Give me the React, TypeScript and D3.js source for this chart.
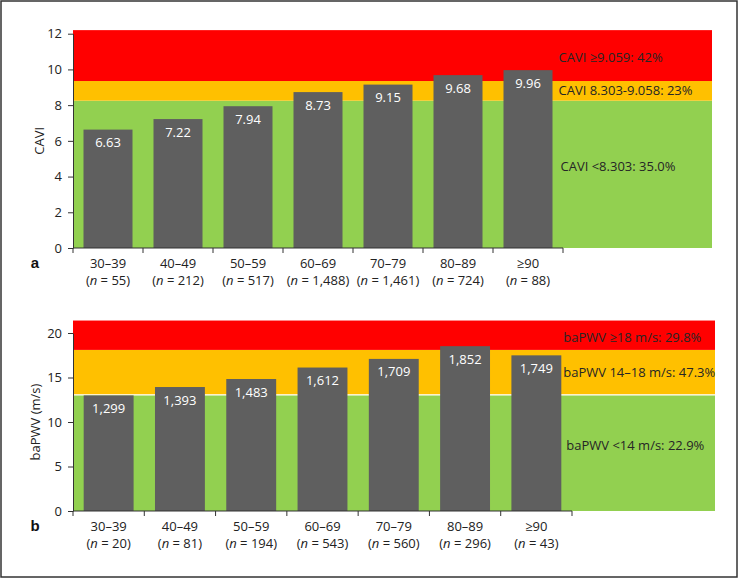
import React, { useEffect, useRef } from 'react';
import * as d3 from 'd3';

// age groups shared by both panels
const ageGroups = ['30–39', '40–49', '50–59', '60–69', '70–79', '80–89', '≥90'];

// panel a: CAVI
const caviN = ['55', '212', '517', '1,488', '1,461', '724', '88'];
const caviMeans = [6.63, 7.22, 7.94, 8.73, 9.15, 9.68, 9.96];
const caviZoneTops = [8.25, 9.35, 12.2];
const caviZoneLabels = ['CAVI <8.303: 35.0%', 'CAVI 8.303-9.058: 23%', 'CAVI ≥9.059: 42%'];
const caviTicks = [0, 2, 4, 6, 8, 10, 12];

// panel b: baPWV (cm/s, axis in m/s)
const pwvN = ['20', '81', '194', '543', '560', '296', '43'];
const pwvMeans = [1299, 1393, 1483, 1612, 1709, 1852, 1749];
const pwvZoneTops = [13.05, 18.1, 21.4];
const pwvZoneLabels = ['baPWV <14 m/s: 22.9%', 'baPWV 14–18 m/s: 47.3%', 'baPWV ≥18 m/s: 29.8%'];
const pwvTicks = [0, 5, 10, 15, 20];

const zoneColors = ['#92d050', '#ffc000', '#ff0000'];
const FONT = '"Open Sans", "Noto Sans", sans-serif';

function drawPanel(svg, cfg) {
  const { y0, y1, vmax, x0, x1, bandRight, values, fmt, ns, zoneTops, zoneLabels, labelAt, labelDx,
    ticks, yLabel, yLabelX, letter, whiteLine } = cfg;
  const x = d3.scaleBand().domain(ageGroups).range([x0, x1]).paddingInner(0.3).paddingOuter(0.15);
  const y = d3.scaleLinear().domain([0, vmax]).range([y0, y1]);
  const g = svg.append('g');

  // zones
  const bounds = [0, ...zoneTops];
  zoneTops.forEach((top, i) => {
    g.append('rect')
      .attr('x', x0).attr('width', bandRight - x0)
      .attr('y', y(top)).attr('height', y(bounds[i]) - y(top))
      .attr('fill', zoneColors[i]);
  });
  if (whiteLine) {
    g.append('line').attr('x1', x0).attr('x2', bandRight)
      .attr('y1', y(zoneTops[0])).attr('y2', y(zoneTops[0]))
      .attr('stroke', '#fff').attr('stroke-width', 1.2);
  }

  // bars
  g.selectAll('rect.bar').data(values).enter().append('rect')
    .attr('class', 'bar')
    .attr('x', (d, i) => x(ageGroups[i]))
    .attr('width', x.bandwidth())
    .attr('y', d => y(d))
    .attr('height', d => y0 - y(d))
    .attr('fill', '#5f5f5f');

  g.selectAll('text.val').data(values).enter().append('text')
    .attr('class', 'val')
    .attr('x', (d, i) => x(ageGroups[i]) + x.bandwidth() / 2)
    .attr('y', d => y(d) + 17.5)
    .attr('text-anchor', 'middle')
    .attr('fill', '#fff')
    .attr('font-size', 13)
    .text(fmt);

  // zone labels
  const lastRight = x(ageGroups[ageGroups.length - 1]) + x.bandwidth();
  zoneLabels.forEach((lab, i) => {
    g.append('text')
      .attr('x', lastRight + labelDx[i])
      .attr('y', y(labelAt[i]))
      .attr('dy', '0.35em')
      .attr('fill', '#262626')
      .attr('font-size', 13)
      .text(lab);
  });

  // y axis
  const ya = g.append('g').attr('transform', `translate(${x0},0)`)
    .call(d3.axisLeft(y).tickValues(ticks).tickSize(5).tickSizeOuter(0).tickPadding(6));
  ya.selectAll('path, line').attr('stroke', '#333');
  ya.selectAll('text').attr('font-size', 13).attr('font-family', FONT).attr('fill', '#222');

  // x axis: line with ticks at category boundaries
  g.append('line').attr('x1', x0).attr('x2', x1).attr('y1', y0).attr('y2', y0)
    .attr('stroke', '#333').attr('stroke-width', 1.2);
  const step = x.step();
  g.selectAll('line.xt').data(d3.range(ageGroups.length + 1)).enter().append('line')
    .attr('class', 'xt')
    .attr('x1', i => x0 + i * step).attr('x2', i => x0 + i * step)
    .attr('y1', y0).attr('y2', y0 + 5)
    .attr('stroke', '#333');

  ageGroups.forEach((ag, i) => {
    const cx = x(ag) + x.bandwidth() / 2;
    g.append('text').attr('x', cx).attr('y', y0 + 20).attr('text-anchor', 'middle')
      .attr('font-size', 13).attr('fill', '#222').text(ag);
    const t = g.append('text').attr('x', cx).attr('y', y0 + 36.5).attr('text-anchor', 'middle')
      .attr('font-size', 13).attr('fill', '#222');
    t.append('tspan').text('(');
    t.append('tspan').attr('font-style', 'italic').text('n');
    t.append('tspan').text(` = ${ns[i]})`);
  });

  g.append('text')
    .attr('transform', `translate(${yLabelX},${(y0 + y1) / 2}) rotate(-90)`)
    .attr('text-anchor', 'middle').attr('dy', '0.35em')
    .attr('font-size', 13).attr('fill', '#222').text(yLabel);

  g.append('text').attr('x', 35).attr('y', y0 + 20).attr('text-anchor', 'middle')
    .attr('font-family', 'Liberation Sans, Arial, sans-serif').attr('font-weight', 'bold')
    .attr('font-size', 15).attr('fill', '#111').text(letter);
}

export default function App() {
  const ref = useRef(null);

  useEffect(() => {
    const svg = d3.select(ref.current);
    svg.selectAll('*').remove();
    svg.append('rect').attr('x', 1).attr('y', 1).attr('width', 736).attr('height', 576)
      .attr('fill', '#fff').attr('stroke', '#333').attr('stroke-width', 1.5);

    drawPanel(svg, {
      y0: 248, y1: 33.7, vmax: 12, x0: 73, x1: 563, bandRight: 712,
      values: caviMeans, fmt: d => d3.format('.2f')(d), ns: caviN,
      zoneTops: caviZoneTops, zoneLabels: caviZoneLabels,
      labelAt: [4.55, 8.8, 10.65], labelDx: [8, 6, 6],
      ticks: caviTicks, yLabel: 'CAVI', yLabelX: 39, letter: 'a', whiteLine: false,
    });

    drawPanel(svg, {
      y0: 511, y1: 333, vmax: 20, x0: 73, x1: 572, bandRight: 715,
      values: pwvMeans.map(v => v / 100), fmt: d => d3.format(',')(Math.round(d * 100)), ns: pwvN,
      zoneTops: pwvZoneTops, zoneLabels: pwvZoneLabels,
      labelAt: [7.4, 15.6, 19.55], labelDx: [5, 2, 2],
      ticks: pwvTicks, yLabel: 'baPWV (m/s)', yLabelX: 35, letter: 'b', whiteLine: true,
    });
  }, []);

  return (
    <svg ref={ref} width={742} height={579}
      style={{ position: 'absolute', left: 0, top: 0, fontFamily: FONT }} />
  );
}
